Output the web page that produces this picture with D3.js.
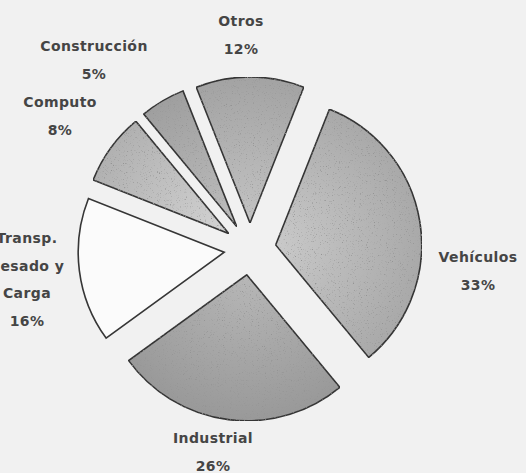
<!DOCTYPE html>
<html>
<head>
<meta charset="utf-8">
<script src="https://cdn.jsdelivr.net/npm/d3@7"></script>
<style>
  body { margin: 0; background: #f1f1f1; }
  svg { display: block; }
  .lbl { font-family: "DejaVu Sans", sans-serif; font-weight: bold; font-size: 14px; fill: #454545; letter-spacing: 0.4px; }
</style>
</head>
<body>
<div id="chart"></div>
<script>
// datos del grafico (porcentaje por sector)
var categorias = ["Vehículos", "Industrial", "Transp. Pesado y Carga", "Computo", "Construcción", "Otros"];
var valores = [33, 26, 16, 8, 5, 12];
var lineas = [["Vehículos"], ["Industrial"], ["Transp.", "Pesado y", "Carga"], ["Computo"], ["Construcción"], ["Otros"]];

// estilo de cada porcion
var rellenos = ["#b5b5b5", "#a4a4a4", "#fbfbfb", "#bebebe", "#ababab", "#afafaf"];
var grano = [true, true, false, true, true, true];
// posicion de las etiquetas (centro x, primera linea y)
var etiquetas = [[478, 262], [213, 443], [27, 243], [60, 107], [94, 51], [241, 26]];

var width = 526;
var height = 473;
var cx = 250, cy = 249;
var radio = 146;
var separacion = 26;

var svg = d3.select("#chart")
    .append("svg")
    .attr("width", width)
    .attr("height", height);

var defs = svg.append("defs");

// textura granulada tipo fotocopia
var filtro = defs.append("filter")
    .attr("id", "grano")
    .attr("x", "0").attr("y", "0").attr("width", "1").attr("height", "1");
filtro.append("feTurbulence")
    .attr("type", "fractalNoise")
    .attr("baseFrequency", "0.85")
    .attr("numOctaves", 2)
    .attr("seed", 7)
    .attr("result", "ruido");
filtro.append("feColorMatrix")
    .attr("in", "ruido")
    .attr("type", "matrix")
    .attr("values", "0 0 0 0 0.3  0 0 0 0 0.3  0 0 0 0 0.3  5 0 0 0 -3.1")
    .attr("result", "motas");
filtro.append("feComposite")
    .attr("in", "motas")
    .attr("in2", "SourceGraphic")
    .attr("operator", "in")
    .attr("result", "motasDentro");
var merge = filtro.append("feMerge");
merge.append("feMergeNode").attr("in", "SourceGraphic");
merge.append("feMergeNode").attr("in", "motasDentro");

rellenos.forEach(function(c, i) {
    var g = defs.append("radialGradient")
        .attr("id", "grad_" + i)
        .attr("gradientUnits", "userSpaceOnUse")
        .attr("cx", 0).attr("cy", 0).attr("r", radio);
    g.append("stop").attr("offset", "0%").attr("stop-color", d3.color(c).brighter(0.3));
    g.append("stop").attr("offset", "100%").attr("stop-color", d3.color(c).darker(0.2));
});

var data = categorias.map(function(c, i) {
    return { nombre: c, valor: valores[i], lineas: lineas[i] };
});

var pie = d3.pie()
    .sort(null)
    .value(function(d) { return d.valor; })
    .startAngle(0.377)
    .endAngle(0.377 + 2 * Math.PI);

var arc = d3.arc()
    .innerRadius(0)
    .outerRadius(radio);

var arcos = pie(data);

var g = svg.append("g")
    .attr("transform", "translate(" + cx + "," + cy + ")");

g.selectAll("g.porcion")
    .data(arcos)
    .enter()
    .append("g")
    .attr("class", "porcion")
    .attr("transform", function(d) {
        var a = (d.startAngle + d.endAngle) / 2;
        return "translate(" + (Math.sin(a) * separacion) + "," + (-Math.cos(a) * separacion) + ")";
    })
    .append("path")
    .attr("d", arc)
    .attr("fill", function(d, i) { return grano[i] ? "url(#grad_" + i + ")" : rellenos[i]; })
    .attr("stroke", "#363636")
    .attr("stroke-width", 1.6)
    .attr("stroke-linejoin", "miter")
    .attr("filter", function(d, i) { return grano[i] ? "url(#grano)" : null; });

// etiquetas: nombre + porcentaje
var texto = svg.selectAll("text.lbl")
    .data(arcos)
    .enter()
    .append("text")
    .attr("class", "lbl")
    .attr("text-anchor", "middle")
    .attr("x", function(d, i) { return etiquetas[i][0]; })
    .attr("y", function(d, i) { return etiquetas[i][1]; });

texto.each(function(d, i) {
    var t = d3.select(this);
    var filas = d.data.lineas.concat([d.data.valor + "%"]);
    filas.forEach(function(f, j) {
        t.append("tspan")
            .attr("x", etiquetas[i][0])
            .attr("dy", j == 0 ? 0 : 27.5)
            .text(f);
    });
});
</script>
</body>
</html>
